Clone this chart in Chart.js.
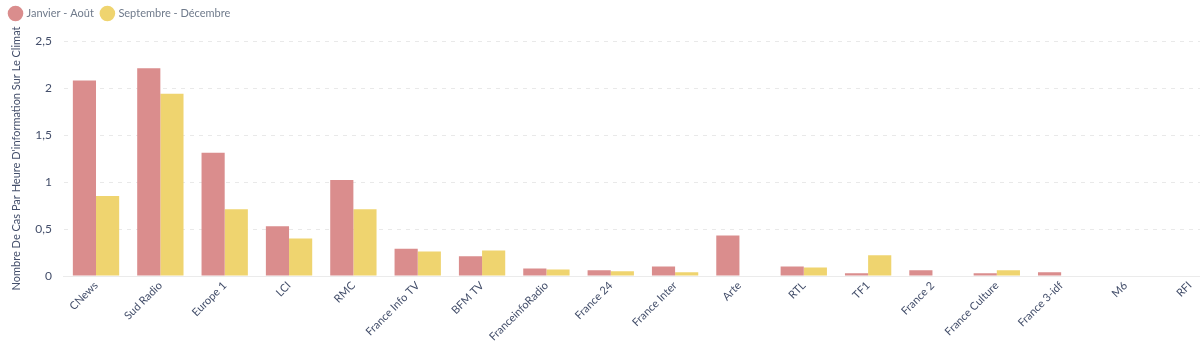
<!DOCTYPE html>
<html>
<head>
<meta charset="utf-8">
<script src="https://cdn.jsdelivr.net/npm/chart.js@4"></script>
<style>
  html, body { margin: 0; padding: 0; background: #fff; overflow: hidden; }
  #wrap { width: 1222px; height: 344px; }
</style>
</head>
<body>
<div id="wrap"><canvas id="chart"></canvas></div>
<script>
const channels = ['CNews', 'Sud Radio', 'Europe 1', 'LCI', 'RMC', 'France Info TV', 'BFM TV',
    'FranceinfoRadio', 'France 24', 'France Inter', 'Arte', 'RTL', 'TF1', 'France 2',
    'France Culture', 'France 3-idf', 'M6', 'RFI'];
const janAout = [2.08, 2.21, 1.31, 0.53, 1.02, 0.29, 0.21, 0.08, 0.06, 0.10, 0.43, 0.10, 0.03, 0.06, 0.03, 0.04, 0, 0];
const sepDec = [0.85, 1.94, 0.71, 0.40, 0.71, 0.26, 0.27, 0.07, 0.05, 0.04, 0, 0.09, 0.22, 0, 0.06, 0, 0, 0];
const yTicks = [0, 0.5, 1, 1.5, 2, 2.5];

const textColor = '#434e6a';
const font = 'Lato, "Open Sans", sans-serif';

// extra room under the legend
const legendSpacer = {
    id: 'legendSpacer',
    beforeInit(chart) {
        const fit = chart.legend.fit;
        chart.legend.fit = function() {
            fit.bind(chart.legend)();
            this.height += 12;
        };
    }
};

const ctx = document.getElementById('chart').getContext('2d');
new Chart(ctx, {
    type: 'bar',
    data: {
        labels: channels,
        datasets: [{
            label: 'Janvier - Août',
            data: janAout,
            backgroundColor: '#da8d8d',
            categoryPercentage: 0.72,
            barPercentage: 1
        }, {
            label: 'Septembre - Décembre',
            data: sepDec,
            backgroundColor: '#efd46f',
            categoryPercentage: 0.72,
            barPercentage: 1
        }]
    },
    options: {
        responsive: true,
        maintainAspectRatio: false,
        animation: false,
        layout: { padding: { left: 2, right: 0, top: 0, bottom: 0 } },
        scales: {
            x: {
                grid: { display: false, drawTicks: false },
                border: { color: '#ebebeb' },
                afterFit: axis => { axis.height = 68; },
                ticks: {
                    color: textColor,
                    minRotation: 45,
                    maxRotation: 45,
                    autoSkip: false,
                    padding: 3,
                    font: { family: font, size: 11 }
                }
            },
            y: {
                min: 0,
                max: yTicks[yTicks.length - 1],
                afterBuildTicks: axis => { axis.ticks = yTicks.map(v => ({ value: v })); },
                grid: { color: '#e9e9e9', drawTicks: false },
                border: { display: false, dash: [4, 5] },
                ticks: {
                    color: textColor,
                    padding: 12,
                    font: { family: font, size: 12 },
                    callback: v => v.toLocaleString('fr-FR', { maximumFractionDigits: 1 })
                },
                title: {
                    display: true,
                    text: "Nombre De Cas Par Heure D'information Sur Le Climat",
                    color: textColor,
                    padding: { top: 8, bottom: 0 },
                    font: { family: font, size: 11 }
                }
            }
        },
        plugins: {
            legend: {
                position: 'top',
                align: 'start',
                labels: {
                    usePointStyle: true,
                    pointStyle: 'circle',
                    boxWidth: 12,
                    boxHeight: 12,
                    color: '#6f7a8b',
                    padding: 8,
                    font: { family: font, size: 11 }
                }
            },
            tooltip: { enabled: false }
        }
    },
    plugins: [legendSpacer]
});
</script>
</body>
</html>
